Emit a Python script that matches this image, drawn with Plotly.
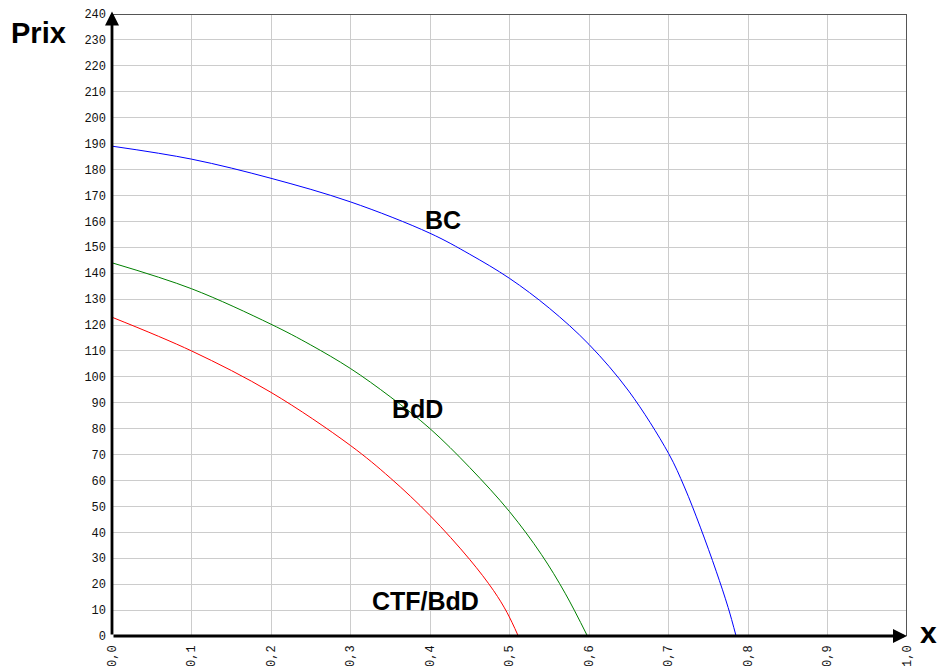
import plotly.graph_objects as go

# curve readings (x, Prix)
bc_x = [0.0, 0.1, 0.2, 0.3, 0.4, 0.45, 0.5, 0.55, 0.6, 0.65, 0.7, 0.72, 0.74, 0.76, 0.775, 0.785]
bc_y = [189, 184, 176.6, 167.5, 155.4, 147.3, 138, 126.5, 112.5, 94.5, 70.5, 57.5, 42, 25, 11, 0]

bdd_x = [0.0, 0.1, 0.2, 0.25, 0.3, 0.35, 0.4, 0.45, 0.5, 0.54, 0.57, 0.598]
bdd_y = [144, 134, 120.3, 112.3, 103.2, 92.3, 80, 65, 48, 31.5, 16.5, 0]

ctf_x = [0.0, 0.1, 0.2, 0.3, 0.35, 0.4, 0.45, 0.48, 0.497, 0.511]
ctf_y = [123, 110, 94, 73.5, 61, 46.5, 29.5, 17.5, 9, 0]

labels = ["BC", "BdD", "CTF/BdD"]
label_x = [0.416, 0.384, 0.394]
label_y = [160.5, 87.5, 13.4]

x_ticks = [i / 10 for i in range(11)]
y_ticks = list(range(0, 241, 10))

fig = go.Figure()
for xs, ys, col in [(bc_x, bc_y, "#0000ff"), (bdd_x, bdd_y, "#008000"), (ctf_x, ctf_y, "#ff0000")]:
    fig.add_trace(go.Scatter(x=xs, y=ys, mode="lines", line=dict(color=col, width=1, shape="spline", smoothing=1),
                             showlegend=False, hoverinfo="skip"))

for t, lx, ly in zip(labels, label_x, label_y):
    fig.add_annotation(x=lx, y=ly, text="<b>%s</b>" % t, showarrow=False,
                       font=dict(family="Arial", size=25, color="black"))

# top and right frame
fig.add_shape(type="line", xref="x", yref="y", x0=0, x1=1, y0=240, y1=240, line=dict(color="#555555", width=2))
fig.add_shape(type="line", xref="x", yref="y", x0=1, x1=1, y0=0, y1=240, line=dict(color="#555555", width=2))

# axis arrows
fig.add_annotation(x=0, y=241, ax=0, ay=0, axref="x", ayref="y", xref="x", yref="y",
                   text="", showarrow=True, arrowhead=2, arrowsize=1, arrowwidth=2.8, arrowcolor="black")
fig.add_annotation(x=1.0, y=0, ax=0, ay=0, axref="x", ayref="y", xref="x", yref="y",
                   text="", showarrow=True, arrowhead=2, arrowsize=1, arrowwidth=2.8, arrowcolor="black")

fig.add_annotation(xref="paper", yref="paper", x=-0.0925, y=0.970, xanchor="center", yanchor="middle",
                   text="<b>Prix</b>", showarrow=False, font=dict(family="Arial", size=29, color="black"))
fig.add_annotation(xref="paper", yref="paper", x=1.027, y=0.005, xanchor="center", yanchor="middle",
                   text="<b>x</b>", showarrow=False, font=dict(family="Arial", size=30, color="black"))

fig.update_layout(
    width=939, height=666,
    margin=dict(l=112, r=32, t=14, b=30),
    plot_bgcolor="white", paper_bgcolor="white",
    separators=", ",
    xaxis=dict(range=[0, 1], tickvals=x_ticks, tickformat=".1f", tickangle=-90, automargin=False,
               showgrid=True, gridcolor="#cccccc", gridwidth=1, zeroline=False, ticklabelstandoff=6,
               showline=False, ticks="", tickfont=dict(family="Liberation Mono", size=12, color="#111")),
    yaxis=dict(range=[0, 240], tickvals=y_ticks, showgrid=True, gridcolor="#cccccc", gridwidth=1,
               zeroline=False, showline=False, ticks="", ticklabelstandoff=5, automargin=False,
               tickfont=dict(family="Liberation Mono", size=12, color="#111")),
)

fig.write_html("out.html", config={"displayModeBar": False},
               post_script="document.body.style.margin='0';")
